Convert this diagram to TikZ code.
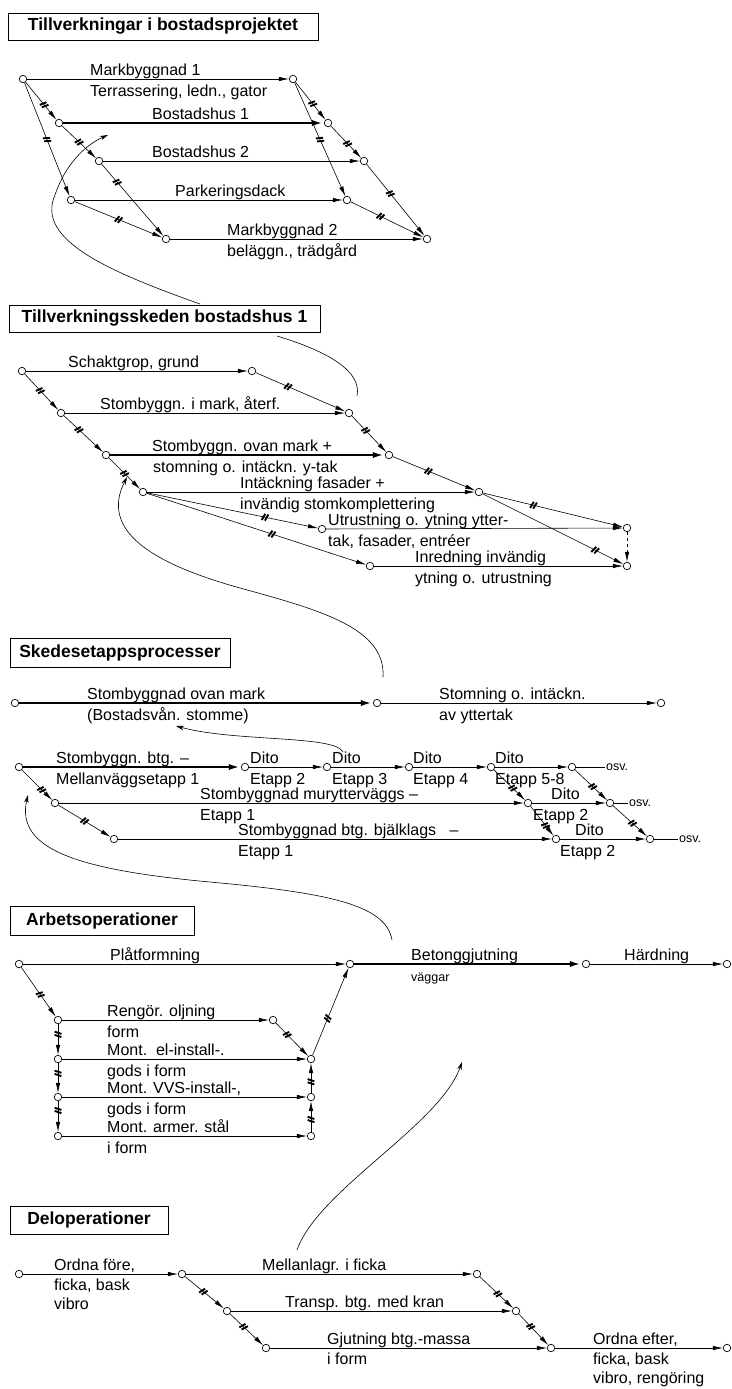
\documentclass[tikz,border=0pt]{standalone}
\usepackage{fontspec}
\setmainfont{Liberation Sans}
\usetikzlibrary{arrows.meta,decorations.markings}

\newcommand\etfont{\fontsize{16}{18}\selectfont}
\newcommand\rubfont{\fontsize{17.5}{20}\selectfont\bfseries}
\newcommand\smfont{\fontsize{12.5}{14}\selectfont}

\tikzset{
  hnd/.style={circle, draw, fill=white, line width=0.7pt, inner sep=0pt, minimum size=7.5pt},
  pil/.style={line width=0.6pt, -{Latex[length=10pt,width=4.4pt]}},
  tjock/.style={line width=2.6pt, -{Latex[length=12pt,width=6pt]}},
  kurva/.style={line width=0.6pt, -{Stealth[length=8pt,width=4.5pt]}},
  spaerr/.style={postaction={decorate, decoration={markings, mark=at position #1 with
    {\draw[-, line width=1.9pt] (-2.6pt,-3.4pt) -- (-0.4pt,3.4pt) (0.6pt,-3.4pt) -- (2.8pt,3.4pt);}}}},
  spaerr/.default=0.5,
  lbl/.style={anchor=base west, inner sep=0pt, font=\etfont},
  osv/.style={anchor=west, inner sep=1pt, font=\smfont},
  rubrik/.style={draw, line width=0.7pt, font=\rubfont, inner sep=0pt}
}

\begin{document}
\begin{tikzpicture}[x=1pt, y=-1pt]
\useasboundingbox (0,0) rectangle (731,1389);
\fill[white] (0,0) rectangle (731,1389);

% Tillverkningar i bostadsprojektet
\node[rubrik, minimum width=310pt, minimum height=27pt] (rub1) at (163,26.5) {Tillverkningar i bostadsprojektet};
\node[hnd] (a1) at (23,79) {};
\node[hnd] (b1) at (293,79) {};
\node[hnd] (a2) at (59,123) {};
\node[hnd] (b2) at (328,123) {};
\node[hnd] (a3) at (99,161) {};
\node[hnd] (b3) at (364,161) {};
\node[hnd] (a4) at (71,200) {};
\node[hnd] (b4) at (347,200) {};
\node[hnd] (a5) at (166,239) {};
\node[hnd] (b5) at (427,239) {};
\node[lbl] (ta1) at (90,75) {Markbyggnad 1};
\node[lbl] (ta1u) at (90,96) {Terrassering, ledn., gator};
\node[lbl] (ta2) at (152,119) {Bostadshus 1};
\node[lbl] (ta3) at (152,157) {Bostadshus 2};
\node[lbl] (ta4) at (175,196) {Parkeringsdack};
\node[lbl] (ta5) at (227,235) {Markbyggnad 2};
\node[lbl] (ta5u) at (227,256) {beläggn., trädgård};
\draw[pil] (a1) -- (b1);
\draw[pil, spaerr=0.6] (a1) -- (a2);
\draw[pil, spaerr] (a1) -- (a4);
\draw[tjock] (a2) -- (b2);
\draw[pil, spaerr] (a2) -- (a3);
\draw[pil] (a3) -- (b3);
\draw[pil, spaerr=0.25] (a3) -- (a5);
\draw[pil] (a4) -- (b4);
\draw[pil, spaerr] (a4) -- (a5);
\draw[pil] (a5) -- (b5);
\draw[pil, spaerr=0.57] (b1) -- (b2);
\draw[pil, spaerr] (b1) -- (b4);
\draw[pil, spaerr=0.55] (b2) -- (b3);
\draw[pil, spaerr=0.41] (b3) -- (b5);
\draw[pil, spaerr=0.41] (b4) -- (b5);

% Tillverkningsskeden bostadshus 1
\node[rubrik, minimum width=311pt, minimum height=27pt] (rub2) at (164.5,318.5) {Tillverkningsskeden bostadshus 1};
\coordinate (u1) at (200,304);
\coordinate (u1e) at (108,135);
\draw[kurva] (u1) .. controls (110,272) and (35,240) .. (55,195) .. controls (65,165) and (85,145) .. (u1e);
\coordinate (u2) at (277,336);
\coordinate (u2e) at (357,396);
\draw[line width=0.6pt] (u2) .. controls (330,352) and (362,372) .. (u2e);
\node[hnd] (c1) at (22,371) {};
\node[hnd] (d1) at (252,371) {};
\node[hnd] (c2) at (61,413) {};
\node[hnd] (d2) at (349,413) {};
\node[hnd] (c3) at (106,455) {};
\node[hnd] (d3) at (389,455) {};
\node[hnd] (c4) at (143,492) {};
\node[hnd] (d4) at (479,492) {};
\node[hnd] (c5) at (322,529) {};
\node[hnd] (e1) at (627,528) {};
\node[hnd] (c6) at (370,566) {};
\node[hnd] (e2) at (627,566) {};
\node[lbl] (tc1) at (68,367) {Schaktgrop, grund};
\node[lbl] (tc2) at (100,409) {Stombyggn. i mark, återf.};
\node[lbl] (tc3) at (152,451) {Stombyggn. ovan mark +};
\node[lbl] (tc3u) at (153,472) {stomning o. intäckn. y-tak};
\node[lbl] (tc4) at (240,488) {Intäckning fasader +};
\node[lbl] (tc4u) at (240,509) {invändig stomkomplettering};
\node[lbl] (tc5) at (328,525) {Utrustning o. ytning ytter-};
\node[lbl] (tc5u) at (328,546) {tak, fasader, entréer};
\node[lbl] (tc6) at (415,562) {Inredning invändig};
\node[lbl] (tc6u) at (415,583) {ytning o. utrustning};
\draw[pil] (c1) -- (d1);
\draw[pil, spaerr=0.46] (c1) -- (c2);
\draw[pil, spaerr=0.36] (d1) -- (d2);
\draw[pil] (c2) -- (d2);
\draw[pil, spaerr=0.38] (c2) -- (c3);
\draw[pil, spaerr=0.4] (d2) -- (d3);
\draw[tjock] (c3) -- (d3);
\draw[pil, spaerr] (c3) -- (c4);
\draw[pil, spaerr=0.43] (d3) -- (d4);
\draw[pil] (c4) -- (d4);
\draw[pil, spaerr=0.69] (c4) -- (c5);
\draw[pil, spaerr=0.57] (c4) -- (c6);
\draw[pil] (c5) -- (e1);
\draw[pil, spaerr=0.36] (d4) -- (e1);
\draw[pil, spaerr=0.8] (d4) -- (e2);
\draw[pil, dashed] (e1) -- (e2);
\draw[pil] (c6) -- (e2);

% Skedesetappsprocesser
\node[rubrik, minimum width=220pt, minimum height=29pt] (rub3) at (120,652.5) {Skedesetappsprocesser};
\coordinate (u3) at (383,677);
\coordinate (u3e) at (127,477);
\draw[kurva] (u3) .. controls (386,628) and (320,610) .. (240,588) .. controls (150,563) and (100,530) .. (u3e);
\node[hnd] (f1) at (15,703) {};
\node[hnd] (f2) at (377,703) {};
\node[hnd] (f3) at (661,703) {};
\node[lbl] (tf1) at (87,699) {Stombyggnad ovan mark};
\node[lbl] (tf1u) at (87,720) {(Bostadsvån. stomme)};
\node[lbl] (tf2) at (439,699) {Stomning o. intäckn.};
\node[lbl] (tf2u) at (439,720) {av yttertak};
\draw[tjock] (f1) -- (f2);
\draw[pil] (f2) -- (f3);
\node[hnd] (g1) at (19,767) {};
\node[hnd] (g2) at (245,767) {};
\node[hnd] (g3) at (327,767) {};
\node[hnd] (g4) at (409,767) {};
\node[hnd] (g5) at (491,767) {};
\node[hnd] (g6) at (572,767) {};
\node[osv] (osv1) at (605,767) {osv.};
\node[hnd] (h1) at (55,803) {};
\node[hnd] (h2) at (528,803) {};
\node[hnd] (h3) at (610,803) {};
\node[osv] (osv2) at (628,803) {osv.};
\node[hnd] (i1) at (114,839) {};
\node[hnd] (i2) at (556,839) {};
\node[hnd] (i3) at (650,839) {};
\node[osv] (osv3) at (678,839) {osv.};
\node[lbl] (tg1) at (56,763) {Stombyggn. btg. –};
\node[lbl] (tg1u) at (56,784) {Mellanväggsetapp 1};
\node[lbl] (tg2) at (250,763) {Dito};
\node[lbl] (tg2u) at (250,784) {Etapp 2};
\node[lbl] (tg3) at (332,763) {Dito};
\node[lbl] (tg3u) at (332,784) {Etapp 3};
\node[lbl] (tg4) at (413,763) {Dito};
\node[lbl] (tg4u) at (413,784) {Etapp 4};
\node[lbl] (tg5) at (495,763) {Dito};
\node[lbl] (tg5u) at (495,784) {Etapp 5-8};
\node[lbl] (th1) at (200,799) {Stombyggnad murytterväggs –};
\node[lbl] (th1u) at (200,820) {Etapp 1};
\node[lbl] (th2) at (551,799) {Dito};
\node[lbl] (th2u) at (533,820) {Etapp 2};
\node[lbl] (ti1) at (238,835) {Stombyggnad btg. bjälklags~~~–};
\node[lbl] (ti1u) at (238,856) {Etapp 1};
\node[lbl] (ti2) at (575,835) {Dito};
\node[lbl] (ti2u) at (560,856) {Etapp 2};
\draw[tjock] (g1) -- (g2);
\draw[pil] (g2) -- (g3);
\draw[pil] (g3) -- (g4);
\draw[pil] (g4) -- (g5);
\draw[pil] (g5) -- (g6);
\draw[line width=0.6pt] (g6) -- (osv1);
\draw[pil, spaerr=0.65] (g1) -- (h1);
\draw[pil, spaerr] (h1) -- (i1);
\draw[pil] (h1) -- (h2);
\draw[pil] (h2) -- (h3);
\draw[line width=0.6pt] (h3) -- (osv2);
\draw[pil] (i1) -- (i2);
\draw[pil] (i2) -- (i3);
\draw[line width=0.6pt] (i3) -- (osv3);
\draw[pil, spaerr=0.6] (g5) -- (h2);
\draw[pil, spaerr=0.55] (g6) -- (h3);
\draw[pil, spaerr=0.65] (h2) -- (i2);
\draw[pil, spaerr=0.57] (h3) -- (i3);
\coordinate (u4) at (343,752);
\coordinate (u4e) at (176,726);
\draw[kurva] (u4) .. controls (335,735) and (235,742) .. (u4e);

% Arbetsoperationer
\node[rubrik, minimum width=184pt, minimum height=29pt] (rub4) at (102,921) {Arbetsoperationer};
\coordinate (u5) at (392,940);
\coordinate (u5e) at (28,795);
\draw[kurva] (u5) .. controls (386,905) and (330,893) .. (210,882) .. controls (80,870) and (15,850) .. (u5e);
\node[hnd] (j1) at (19,964) {};
\node[hnd] (j2) at (350,964) {};
\node[hnd] (j3) at (586,964) {};
\node[hnd] (j4) at (727,964) {};
\node[hnd] (k1) at (58,1020) {};
\node[hnd] (l1) at (273,1020) {};
\node[hnd] (k2) at (58,1059) {};
\node[hnd] (m1) at (311,1059) {};
\node[hnd] (k3) at (58,1097) {};
\node[hnd] (m2) at (311,1097) {};
\node[hnd] (k4) at (58,1136) {};
\node[hnd] (m3) at (311,1136) {};
\node[lbl] (tj1) at (110,960) {Plåtformning};
\node[lbl] (tj2) at (411,960) {Betonggjutning};
\node[lbl, font=\smfont] (tj2u) at (411,981) {väggar};
\node[lbl] (tj3) at (624,960) {Härdning};
\node[lbl] (tk1) at (107,1016) {Rengör. oljning};
\node[lbl] (tk1u) at (107,1037) {form};
\node[lbl] (tk2) at (107,1055) {Mont.~~el-install-.};
\node[lbl] (tk2u) at (107,1076) {gods i form};
\node[lbl] (tk3) at (107,1093) {Mont. VVS-install-,};
\node[lbl] (tk3u) at (107,1114) {gods i form};
\node[lbl] (tk4) at (107,1132) {Mont. armer. stål};
\node[lbl] (tk4u) at (107,1153) {i form};
\draw[pil] (j1) -- (j2);
\draw[tjock] (j2) -- (j3);
\draw[pil] (j3) -- (j4);
\draw[pil, spaerr=0.55] (j1) -- (k1);
\draw[pil, spaerr=0.33] (k1) -- (k2);
\draw[pil, spaerr=0.34] (k2) -- (k3);
\draw[pil, spaerr=0.3] (k3) -- (k4);
\draw[pil] (k1) -- (l1);
\draw[pil, spaerr=0.35] (l1) -- (m1);
\draw[pil] (k2) -- (m1);
\draw[pil] (k3) -- (m2);
\draw[pil] (k4) -- (m3);
\draw[pil, spaerr=0.4] (m3) -- (m2);
\draw[pil, spaerr=0.37] (m2) -- (m1);
\draw[pil, spaerr=0.42] (m1) -- (j2);

% Deloperationer
\node[rubrik, minimum width=158pt, minimum height=28pt] (rub5) at (89,1220) {Deloperationer};
\coordinate (u6) at (297,1250);
\coordinate (u6e) at (462,1062);
\draw[kurva] (u6) .. controls (318,1190) and (440,1125) .. (u6e);
\node[hnd] (n1) at (19,1274) {};
\node[hnd] (n2) at (182,1274) {};
\node[hnd] (n3) at (477,1274) {};
\node[hnd] (o1) at (227,1311) {};
\node[hnd] (o2) at (516,1311) {};
\node[hnd] (p1) at (266,1348) {};
\node[hnd] (p2) at (551,1348) {};
\node[hnd] (q1) at (727,1348) {};
\node[lbl] (tn1) at (54,1270) {Ordna före,};
\node[lbl] (tn1u) at (54,1290) {ficka, bask};
\node[lbl] (tn1v) at (54,1309) {vibro};
\node[lbl] (tn2) at (262,1270) {Mellanlagr. i ficka};
\node[lbl] (to1) at (285,1307) {Transp. btg. med kran};
\node[lbl] (tp1) at (327,1344) {Gjutning btg.-massa};
\node[lbl] (tp1u) at (327,1364) {i form};
\node[lbl] (tq1) at (593,1344) {Ordna efter,};
\node[lbl] (tq1u) at (593,1364) {ficka, bask};
\node[lbl] (tq1v) at (593,1383) {vibro, rengöring};
\draw[pil] (n1) -- (n2);
\draw[pil] (n2) -- (n3);
\draw[pil, spaerr=0.47] (n2) -- (o1);
\draw[pil] (o1) -- (o2);
\draw[pil, spaerr=0.41] (o1) -- (p1);
\draw[pil, spaerr=0.54] (n3) -- (o2);
\draw[pil, spaerr=0.4] (o2) -- (p2);
\draw[pil] (p1) -- (p2);
\draw[pil] (p2) -- (q1);
\end{tikzpicture}
\end{document}
